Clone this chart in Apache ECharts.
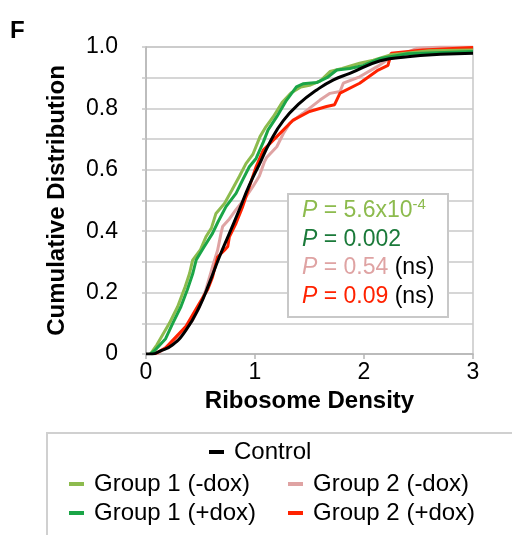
<!DOCTYPE html>
<html>
<head>
<meta charset="utf-8">
<script src="https://cdn.jsdelivr.net/npm/echarts@6/dist/echarts.min.js"></script>
<style>
html,body{margin:0;padding:0;background:#fff;}
#chart{width:512px;height:535px;}
</style>
</head>
<body>
<div id="chart"></div>
<script>
var FONT = "'Liberation Sans', Arial, Helvetica, sans-serif";

var seriesNames = ['Control', 'Group 1 (-dox)', 'Group 1 (+dox)', 'Group 2 (-dox)', 'Group 2 (+dox)'];
var xTickLabels = ['0', '1', '2', '3'];
var yTickLabels = ['0', '', '0.2', '', '0.4', '', '0.6', '', '0.8', '', '1.0'];

var control = [[0,0],[0.06,0],[0.12,0.008],[0.245,0.03],[0.367,0.078],[0.49,0.154],[0.58,0.23],[0.673,0.316],[0.765,0.393],[0.856,0.47],[0.948,0.55],[1.04,0.618],[1.137,0.69],[1.26,0.76],[1.41,0.817],[1.566,0.86],[1.72,0.893],[1.87,0.914],[2.15,0.955],[2.4,0.968],[2.7,0.976],[3,0.98]];

var group1Minus = [[0.04,0],[0.1,0.03],[0.214,0.10],[0.29,0.154],[0.36,0.22],[0.40,0.263],[0.428,0.306],[0.5,0.34],[0.55,0.382],[0.6,0.41],[0.642,0.458],[0.72,0.49],[0.79,0.535],[0.856,0.578],[0.917,0.62],[0.98,0.65],[1.046,0.708],[1.1,0.74],[1.168,0.773],[1.25,0.82],[1.33,0.85],[1.42,0.87],[1.5,0.875],[1.6,0.89],[1.688,0.92],[1.8,0.93],[1.96,0.947],[2.086,0.957],[2.25,0.975],[2.6,0.988],[3,0.99]];

var group1Plus = [[0.04,0],[0.076,0.01],[0.18,0.05],[0.245,0.10],[0.32,0.154],[0.38,0.21],[0.43,0.263],[0.46,0.306],[0.5,0.33],[0.535,0.35],[0.61,0.393],[0.66,0.43],[0.734,0.48],[0.826,0.523],[0.887,0.567],[0.948,0.61],[1.01,0.637],[1.076,0.69],[1.12,0.73],[1.2,0.773],[1.29,0.827],[1.38,0.87],[1.44,0.88],[1.566,0.884],[1.66,0.9],[1.75,0.925],[1.87,0.93],[1.995,0.94],[2.15,0.963],[2.4,0.978],[3,0.985]];

var group2Minus = [[0.1,0],[0.2,0.025],[0.306,0.054],[0.428,0.11],[0.49,0.154],[0.55,0.21],[0.61,0.284],[0.657,0.338],[0.688,0.393],[0.703,0.415],[0.765,0.44],[0.826,0.47],[0.917,0.512],[0.98,0.545],[1.04,0.58],[1.085,0.625],[1.107,0.64],[1.2,0.675],[1.26,0.718],[1.32,0.752],[1.44,0.784],[1.596,0.827],[1.688,0.849],[1.78,0.855],[1.81,0.882],[1.96,0.903],[2.12,0.936],[2.21,0.957],[2.48,0.995],[2.7,1.0],[3,1.0]];

var group2Plus = [[0.08,0],[0.18,0.02],[0.367,0.09],[0.49,0.165],[0.566,0.21],[0.61,0.25],[0.657,0.316],[0.72,0.338],[0.75,0.35],[0.765,0.382],[0.826,0.426],[0.887,0.48],[0.948,0.545],[1.01,0.61],[1.076,0.664],[1.2,0.708],[1.35,0.762],[1.5,0.79],[1.657,0.806],[1.73,0.812],[1.78,0.85],[1.96,0.882],[2.13,0.925],[2.22,0.94],[2.25,0.98],[2.54,0.99],[3,0.998]];

var colors = {
  'Control': '#000000',
  'Group 1 (-dox)': '#8DBB4E',
  'Group 1 (+dox)': '#1AA547',
  'Group 2 (-dox)': '#DFA3A3',
  'Group 2 (+dox)': '#FF2200'
};

function lineSeries(name, data, smooth, z) {
  return {
    name: name, type: 'line', data: data, smooth: smooth, showSymbol: false,
    symbol: 'none', z: z, color: colors[name],
    lineStyle: {color: colors[name], width: 3}
  };
}

function legendAt(name, left, top) {
  return {
    data: [name], left: left, top: top, icon: 'rect', itemWidth: 15, itemHeight: 4,
    padding: 0, selectedMode: false,
    textStyle: {fontFamily: FONT, fontSize: 24, color: '#000', lineHeight: 24, padding: [0,0,0,5]}
  };
}

var chart = echarts.init(document.getElementById('chart'));
chart.setOption({
  animation: false,
  backgroundColor: '#fff',
  grid: {left: 146, right: 39, top: 47, bottom: 181, show: true, borderColor: '#c8c8c8', borderWidth: 1.5, backgroundColor: 'transparent'},
  xAxis: {
    type: 'value', min: 0, max: 3, interval: 1,
    name: 'Ribosome Density', nameLocation: 'middle', nameGap: 32,
    nameTextStyle: {fontFamily: FONT, fontSize: 24, fontWeight: 'bold', color: '#000'},
    axisLine: {show: true, lineStyle: {color: '#b5b5b5', width: 1.5}},
    axisTick: {show: true, length: 5, lineStyle: {color: '#b5b5b5', width: 1.5}},
    splitLine: {show: false},
    axisLabel: {fontFamily: FONT, fontSize: 23, color: '#000', margin: 7,
      formatter: function (v) { return xTickLabels[Math.round(v)]; }}
  },
  yAxis: {
    type: 'value', min: 0, max: 1, interval: 0.1,
    name: 'Cumulative Distribution', nameLocation: 'middle', nameGap: 77, nameRotate: 90,
    nameTextStyle: {fontFamily: FONT, fontSize: 24, fontWeight: 'bold', color: '#000'},
    axisLine: {show: true, lineStyle: {color: '#b5b5b5', width: 1.5}},
    axisTick: {show: true, length: 4, lineStyle: {color: '#c8c8c8', width: 1.5}},
    splitLine: {show: true, lineStyle: {color: '#c8c8c8', width: 1.5}},
    axisLabel: {fontFamily: FONT, fontSize: 23, color: '#000', margin: 28,
      formatter: function (v) { return yTickLabels[Math.round(v * 10)]; }}
  },
  legend: [
    legendAt('Control', 209, 440),
    legendAt('Group 1 (-dox)', 69, 472),
    legendAt('Group 1 (+dox)', 69, 501),
    legendAt('Group 2 (-dox)', 288, 472),
    legendAt('Group 2 (+dox)', 288, 501)
  ],
  series: [
    lineSeries('Group 2 (-dox)', group2Minus, false, 2),
    lineSeries('Group 2 (+dox)', group2Plus, false, 3),
    lineSeries('Group 1 (-dox)', group1Minus, false, 4),
    lineSeries('Group 1 (+dox)', group1Plus, false, 5),
    lineSeries('Control', control, true, 6)
  ],
  graphic: [
    {type: 'text', left: 10, top: 19, style: {text: 'F', font: 'bold 24px ' + FONT, fill: '#000'}},
    {type: 'rect', shape: {x: 47, y: 433, width: 480, height: 120}, style: {fill: 'none', stroke: '#d0d0d0', lineWidth: 2}, z: 10},
    {type: 'rect', shape: {x: 288, y: 194, width: 160, height: 123}, style: {fill: '#fff', stroke: '#c8c8c8', lineWidth: 2}, z: 20},
    {type: 'text', x: 302, y: 211, z: 21, style: {
      text: '{p|P} = 5.6x10{s|-4}', fill: '#8DBB4E', fontFamily: FONT, fontSize: 23, verticalAlign: 'middle',
      rich: {p: {fontStyle: 'italic', fontSize: 23, fontFamily: FONT}, s: {fontSize: 15, fontFamily: FONT, verticalAlign: 'top', padding: [0,0,12,0]}}}},
    {type: 'text', x: 302, y: 240, z: 21, style: {
      text: '{p|P} = 0.002', fill: '#1B7A3A', fontFamily: FONT, fontSize: 23, verticalAlign: 'middle',
      rich: {p: {fontStyle: 'italic', fontSize: 23, fontFamily: FONT}}}},
    {type: 'text', x: 302, y: 268, z: 21, style: {
      text: '{p|P} = 0.54 {n|(ns)}', fill: '#DFA3A3', fontFamily: FONT, fontSize: 23, verticalAlign: 'middle',
      rich: {p: {fontStyle: 'italic', fontSize: 23, fontFamily: FONT}, n: {fill: '#000', color: '#000', fontSize: 23, fontFamily: FONT}}}},
    {type: 'text', x: 302, y: 297, z: 21, style: {
      text: '{p|P} = 0.09 {n|(ns)}', fill: '#FF2200', fontFamily: FONT, fontSize: 23, verticalAlign: 'middle',
      rich: {p: {fontStyle: 'italic', fontSize: 23, fontFamily: FONT}, n: {fill: '#000', color: '#000', fontSize: 23, fontFamily: FONT}}}}
  ]
});
</script>
</body>
</html>
